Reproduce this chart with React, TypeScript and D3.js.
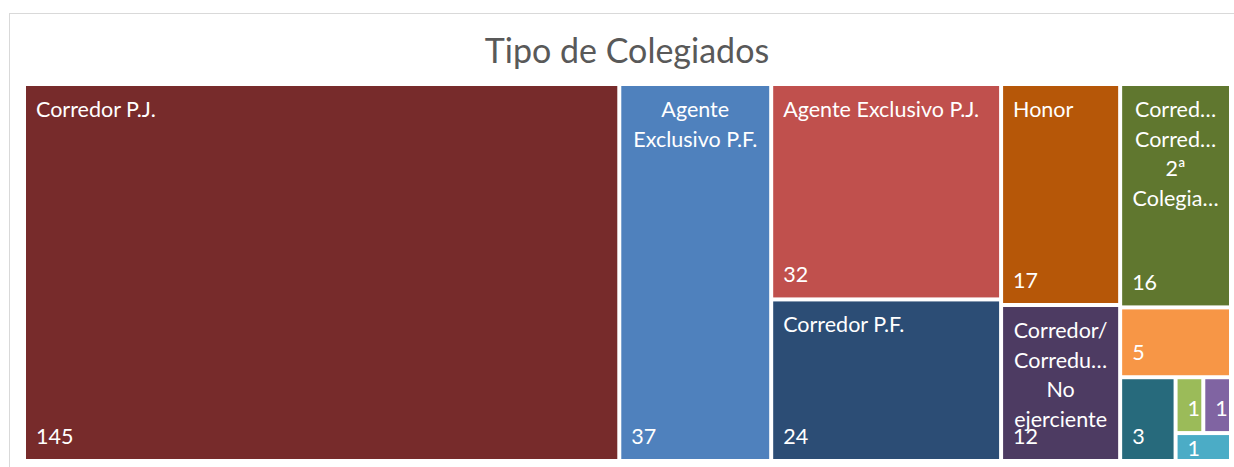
import React from "react";
import * as d3 from "d3";

const title = "Tipo de Colegiados";
const values = [145, 37, 32, 24, 17, 12, 16, 5, 3, 1, 1, 1];
const labelLines: string[][] = [
  ["Corredor P.J."],
  ["Agente", "Exclusivo P.F."],
  ["Agente Exclusivo P.J."],
  ["Corredor P.F."],
  ["Honor"],
  ["Corredor/", "Corredu…", "No", "ejerciente"],
  ["Corred…", "Corred…", "2ª", "Colegia…"],
  [],
  [],
  [],
  [],
  [],
];
const colors = [
  "#772B2B",
  "#4F81BD",
  "#C0504D",
  "#2C4D75",
  "#B65708",
  "#4D3B62",
  "#60772F",
  "#F79646",
  "#276A7C",
  "#9BBB59",
  "#8064A2",
  "#4BACC6",
];
// nesting of the leaves (indices into the arrays above), alternating dice / slice
const layout: any[] = [[0], [1], [2, 3], [4, 5], [6, 7, [8, [[9, 10], 11]]]];

type Node = { index?: number; children?: Node[] };
function build(item: any): Node {
  return Array.isArray(item) ? { children: item.map(build) } : { index: item };
}

const W = 1234;
const H = 467;
const X0 = 26;
const Y0 = 86;
const X1 = 1229;
const Y1 = 459;
const FONT = "Lato, 'Open Sans', sans-serif";

export default function App() {
  const root = d3
    .hierarchy<Node>(build(layout), (d) => d.children)
    .sum((d) => (d.index != null ? values[d.index] : 0));

  d3
    .treemap<Node>()
    .size([X1 - X0, Y1 - Y0])
    .paddingInner(4)
    .tile((node: any, x0: number, y0: number, x1: number, y1: number) => {
      (node.depth % 2 === 0 ? d3.treemapDice : d3.treemapSlice)(node, x0, y0, x1, y1);
    })(root);

  const leaves = root.leaves() as d3.HierarchyRectangularNode<Node>[];

  return (
    <svg
      width={W}
      height={H}
      style={{ position: "absolute", left: 0, top: 0, display: "block" }}
    >
      <rect x={0} y={0} width={W} height={H} fill="#ffffff" />
      <rect
        x={9.5}
        y={13.5}
        width={W + 20}
        height={H + 20}
        fill="#ffffff"
        stroke="#d9d9d9"
        strokeWidth={1}
      />
      <text
        x={627}
        y={63}
        textAnchor="middle"
        fontFamily={FONT}
        fontSize={34}
        fill="#595959"
      >
        {title}
      </text>
      <g transform={`translate(${X0},${Y0})`}>
        {leaves.map((n) => {
          const i = n.data.index as number;
          const lines = labelLines[i];
          const w = n.x1 - n.x0;
          const cx = n.x0 + w / 2;
          const multi = lines.length > 1;
          const valueY = Math.max(n.y1 - 15, n.y0 + 21);
          return (
            <g key={i}>
              <rect
                x={n.x0}
                y={n.y0}
                width={w}
                height={n.y1 - n.y0}
                fill={colors[i]}
              />
              {lines.map((l, k) => (
                <text
                  key={k}
                  x={multi ? cx : n.x0 + 10}
                  y={n.y0 + 31 + k * 29.5}
                  textAnchor={multi ? "middle" : "start"}
                  fontFamily={FONT}
                  fontSize={21.5}
                  fill="#ffffff"
                >
                  {l}
                </text>
              ))}
              <text
                x={n.x0 + 10}
                y={valueY}
                fontFamily={FONT}
                fontSize={21.5}
                fill="#ffffff"
              >
                {values[i]}
              </text>
            </g>
          );
        })}
      </g>
    </svg>
  );
}
